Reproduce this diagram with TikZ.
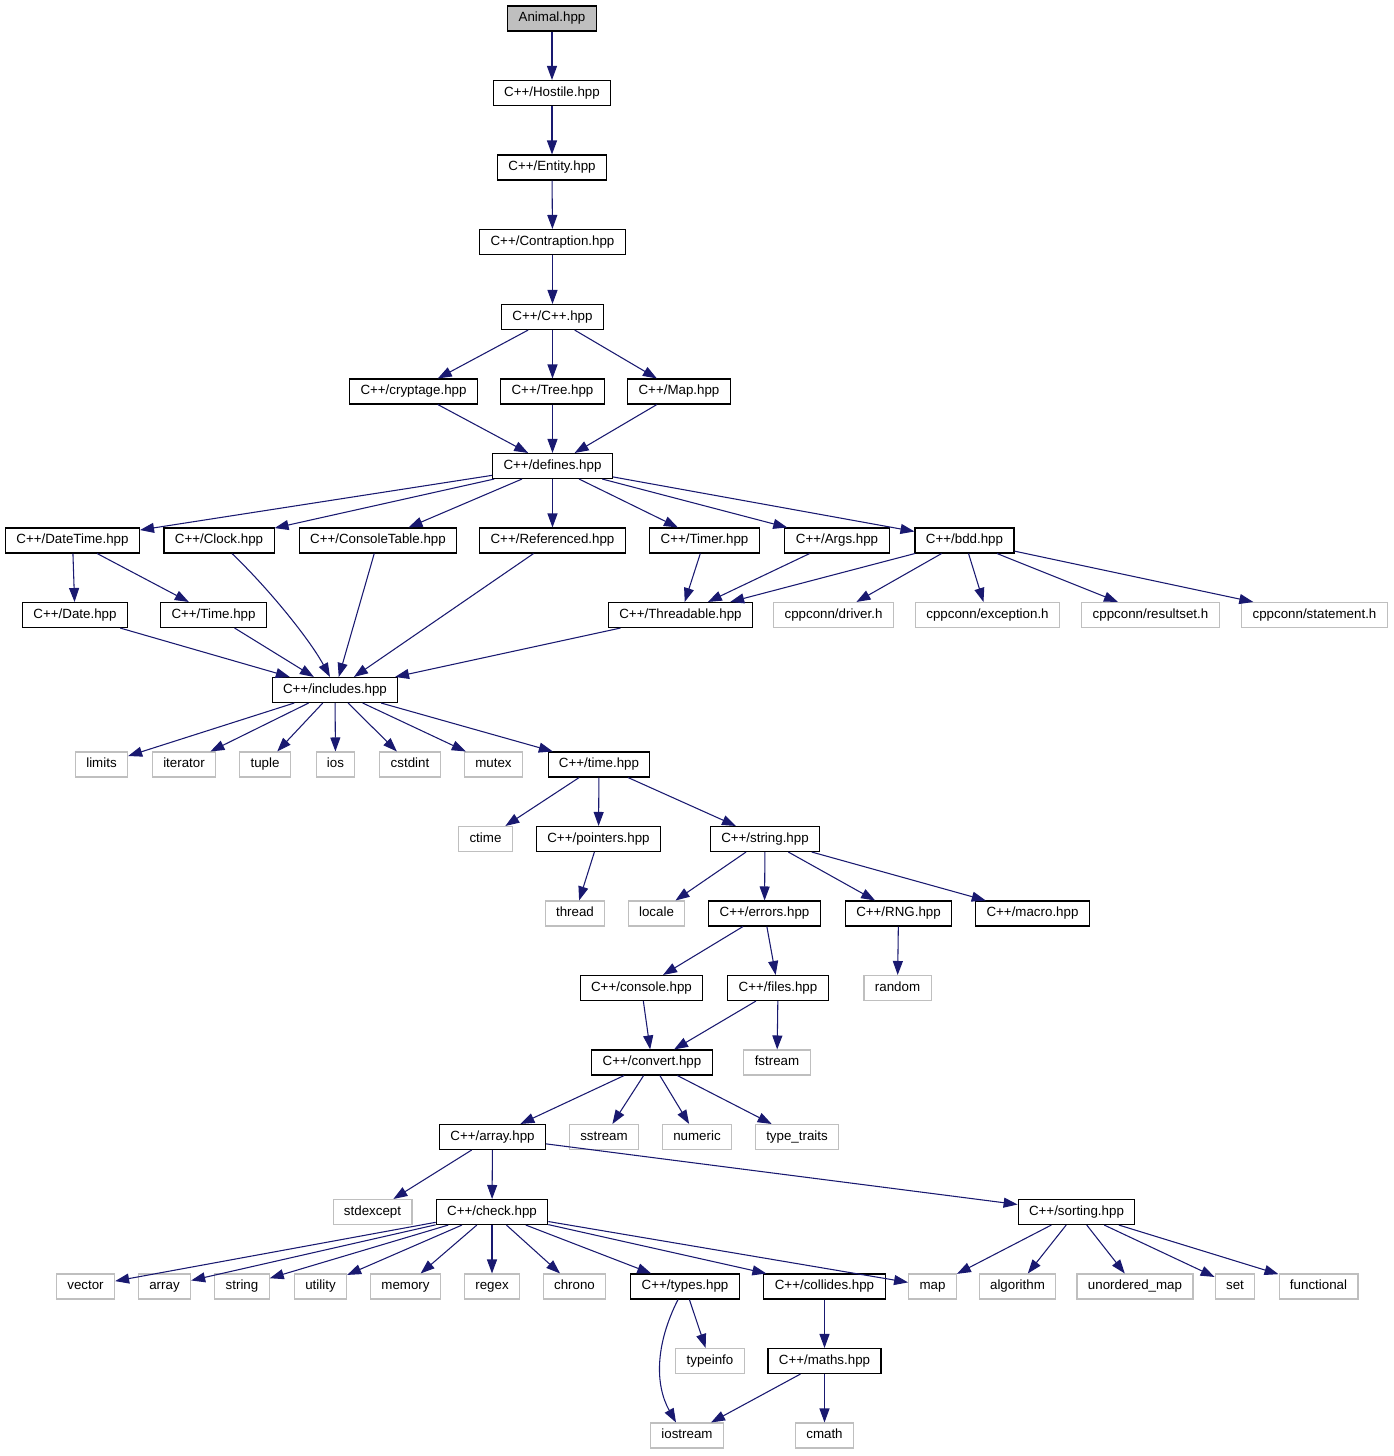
\documentclass[tikz,border=0pt]{standalone}
\usepackage{fontspec}
\setmainfont{Liberation Sans}
\usetikzlibrary{arrows.meta,calc}
\definecolor{edgec}{HTML}{191970}
\definecolor{grayb}{HTML}{BFBFBF}
\begin{document}
\begin{tikzpicture}[x=0.75pt,y=-0.75pt,
 base/.style={rectangle, minimum height=18.75pt, inner xsep=8.2pt, inner ysep=0pt,
   text height=7.2pt, text depth=2.1pt, font=\fontsize{10pt}{12pt}\selectfont, line width=0.8pt},
 hdr/.style={base, draw=black},
 ext/.style={base, draw=grayb},
 rootnode/.style={base, draw=black, fill=grayb},
 e/.style={draw=edgec, line width=0.8pt, -{Triangle[length=10.5pt,width=7.5pt,fill=edgec]}}]
\useasboundingbox (0,0) rectangle (1393,1456);
% row 0-6
\node[rootnode] (animal) at (552,18.5) {Animal.hpp};
\node[hdr] (hostile) at (552,93) {C++/Hostile.hpp};
\node[hdr] (entity) at (552,167.5) {C++/Entity.hpp};
\node[hdr] (contraption) at (552.5,242) {C++/Contraption.hpp};
\node[hdr] (cpp) at (552.5,317) {C++/C++.hpp};
\node[hdr] (cryptage) at (413.5,391.5) {C++/cryptage.hpp};
\node[hdr] (tree) at (552.5,391.5) {C++/Tree.hpp};
\node[hdr] (mapf) at (679,391.5) {C++/Map.hpp};
\node[hdr] (defines) at (552.5,466) {C++/defines.hpp};
% row 7
\node[hdr] (datetime) at (72.5,540.5) {C++/DateTime.hpp};
\node[hdr] (clock) at (219,540.5) {C++/Clock.hpp};
\node[hdr] (consoletable) at (378,540.5) {C++/ConsoleTable.hpp};
\node[hdr] (referenced) at (552.5,540.5) {C++/Referenced.hpp};
\node[hdr] (timer) at (704.5,540.5) {C++/Timer.hpp};
\node[hdr] (args) at (837,540.5) {C++/Args.hpp};
\node[hdr] (bdd) at (964.5,540.5) {C++/bdd.hpp};
% row 8
\node[hdr] (date) at (75,615) {C++/Date.hpp};
\node[hdr] (timecap) at (213.5,615) {C++/Time.hpp};
\node[hdr] (threadable) at (680.5,615) {C++/Threadable.hpp};
\node[ext] (driver) at (833.5,615) {cppconn/driver.h};
\node[ext] (exception) at (987.5,615) {cppconn/exception.h};
\node[ext] (resultset) at (1150.5,615) {cppconn/resultset.h};
\node[ext] (statement) at (1314.5,615) {cppconn/statement.h};
% row 9
\node[hdr] (includes) at (335,690) {C++/includes.hpp};
% row 10
\node[ext] (limits) at (101.5,764.5) {limits};
\node[ext] (iterator) at (184,764.5) {iterator};
\node[ext] (tuple) at (265,764.5) {tuple};
\node[ext] (ios) at (335.5,764.5) {ios};
\node[ext] (cstdint) at (410,764.5) {cstdint};
\node[ext] (mutex) at (493.5,764.5) {mutex};
\node[hdr] (timelow) at (599,764.5) {C++/time.hpp};
% row 11
\node[ext] (ctime) at (485.5,839) {ctime};
\node[hdr] (pointers) at (598.5,839) {C++/pointers.hpp};
\node[hdr] (stringf) at (765,839) {C++/string.hpp};
% row 12
\node[ext] (thread) at (575,913.5) {thread};
\node[ext] (locale) at (656.5,913.5) {locale};
\node[hdr] (errors) at (764.5,913.5) {C++/errors.hpp};
\node[hdr] (rng) at (898.5,913.5) {C++/RNG.hpp};
\node[hdr] (macro) at (1032.5,913.5) {C++/macro.hpp};
% row 13
\node[hdr] (console) at (641.5,988) {C++/console.hpp};
\node[hdr] (files) at (778,988) {C++/files.hpp};
\node[ext] (random) at (897.5,988) {random};
% row 14
\node[hdr] (convert) at (652,1062.5) {C++/convert.hpp};
\node[ext] (fstream) at (777,1062.5) {fstream};
% row 15
\node[hdr] (arrayf) at (492.5,1137) {C++/array.hpp};
\node[ext] (sstream) at (604,1137) {sstream};
\node[ext] (numeric) at (697,1137) {numeric};
\node[ext] (typetraits) at (797,1137) {type\_traits};
% row 16
\node[ext] (stdexcept) at (372.5,1212) {stdexcept};
\node[hdr] (check) at (492,1212) {C++/check.hpp};
\node[hdr] (sorting) at (1076.5,1212) {C++/sorting.hpp};
% row 17
\node[ext] (vector) at (85.5,1286.5) {vector};
\node[ext] (arrayh) at (164.5,1286.5) {array};
\node[ext] (stringh) at (242,1286.5) {string};
\node[ext] (utility) at (320.5,1286.5) {utility};
\node[ext] (memory) at (405.5,1286.5) {memory};
\node[ext] (regex) at (492,1286.5) {regex};
\node[ext] (chrono) at (574.5,1286.5) {chrono};
\node[hdr] (types) at (685,1286.5) {C++/types.hpp};
\node[hdr] (collides) at (824.5,1286.5) {C++/collides.hpp};
\node[ext] (maph) at (932.5,1286.5) {map};
\node[ext] (algorithm) at (1017.5,1286.5) {algorithm};
\node[ext] (unorderedmap) at (1135,1286.5) {unordered\_map};
\node[ext] (seth) at (1235,1286.5) {set};
\node[ext] (functional) at (1318.5,1286.5) {functional};
% row 18
\node[ext] (typeinfo) at (710,1361) {typeinfo};
\node[hdr] (maths) at (824.5,1361) {C++/maths.hpp};
% row 19
\node[ext] (iostream) at (687,1435.5) {iostream};
\node[ext] (cmath) at (824.5,1435.5) {cmath};
% edges
\draw[e] (animal) -- (hostile);
\draw[e] (hostile) -- (entity);
\draw[e] (entity) -- (contraption);
\draw[e] (contraption) -- (cpp);
\draw[e] (cpp) -- (cryptage);
\draw[e] (cpp) -- (tree);
\draw[e] (cpp) -- (mapf);
\draw[e] (cryptage) -- (defines);
\draw[e] (tree) -- (defines);
\draw[e] (mapf) -- (defines);
\draw[e] (defines) -- (datetime);
\draw[e] (defines) -- (clock);
\draw[e] (defines) -- (consoletable);
\draw[e] (defines) -- (referenced);
\draw[e] (defines) -- (timer);
\draw[e] (defines) -- (args);
\draw[e] (defines) -- (bdd);
\draw[e] (datetime) -- (date);
\draw[e] (datetime) -- (timecap);
\draw[e] ($(clock.south)+(13,0)$) .. controls (270,590) and (310,640) .. ($(includes.north)+(-5,0)$);
\draw[e] (consoletable) -- (includes);
\draw[e] (referenced) -- (includes);
\draw[e] (timer) -- (threadable);
\draw[e] (args) -- (threadable);
\draw[e] (bdd) -- (threadable);
\draw[e] (bdd) -- (driver);
\draw[e] (bdd) -- (exception);
\draw[e] (bdd) -- (resultset);
\draw[e] (bdd) -- (statement);
\draw[e] (date) -- (includes);
\draw[e] (timecap) -- (includes);
\draw[e] (threadable) -- (includes);
\draw[e] (includes) -- (limits);
\draw[e] (includes) -- (iterator);
\draw[e] (includes) -- (tuple);
\draw[e] (includes) -- (ios);
\draw[e] (includes) -- (cstdint);
\draw[e] (includes) -- (mutex);
\draw[e] (includes) -- (timelow);
\draw[e] (timelow) -- (ctime);
\draw[e] (timelow) -- (pointers);
\draw[e] (timelow) -- (stringf);
\draw[e] (pointers) -- (thread);
\draw[e] (stringf) -- (locale);
\draw[e] (stringf) -- (errors);
\draw[e] (stringf) -- (rng);
\draw[e] (stringf) -- (macro);
\draw[e] (errors) -- (console);
\draw[e] (errors) -- (files);
\draw[e] (rng) -- (random);
\draw[e] (console) -- (convert);
\draw[e] (files) -- (convert);
\draw[e] (files) -- (fstream);
\draw[e] (convert) -- (arrayf);
\draw[e] (convert) -- (sstream);
\draw[e] (convert) -- (numeric);
\draw[e] (convert) -- (typetraits);
\draw[e] (arrayf) -- (stdexcept);
\draw[e] (arrayf) -- (check);
\draw[e] (arrayf) -- (sorting);
\draw[e] (check) -- (vector);
\draw[e] (check) -- (arrayh);
\draw[e] (check) -- (stringh);
\draw[e] (check) -- (utility);
\draw[e] (check) -- (memory);
\draw[e] (check) -- (regex);
\draw[e] (check) -- (chrono);
\draw[e] (check) -- (types);
\draw[e] (check) -- (collides);
\draw[e] (check) -- (maph);
\draw[e] (sorting) -- (maph);
\draw[e] (sorting) -- (algorithm);
\draw[e] (sorting) -- (unorderedmap);
\draw[e] (sorting) -- (seth);
\draw[e] (sorting) -- (functional);
\draw[e] (types) -- (typeinfo);
\draw[e] ($(types.south)+(-7,0)$) .. controls (655,1345) and (655,1385) .. ($(iostream.north)+(-11,0)$);
\draw[e] (collides) -- (maths);
\draw[e] (maths) -- (iostream);
\draw[e] (maths) -- (cmath);
\end{tikzpicture}
\end{document}
